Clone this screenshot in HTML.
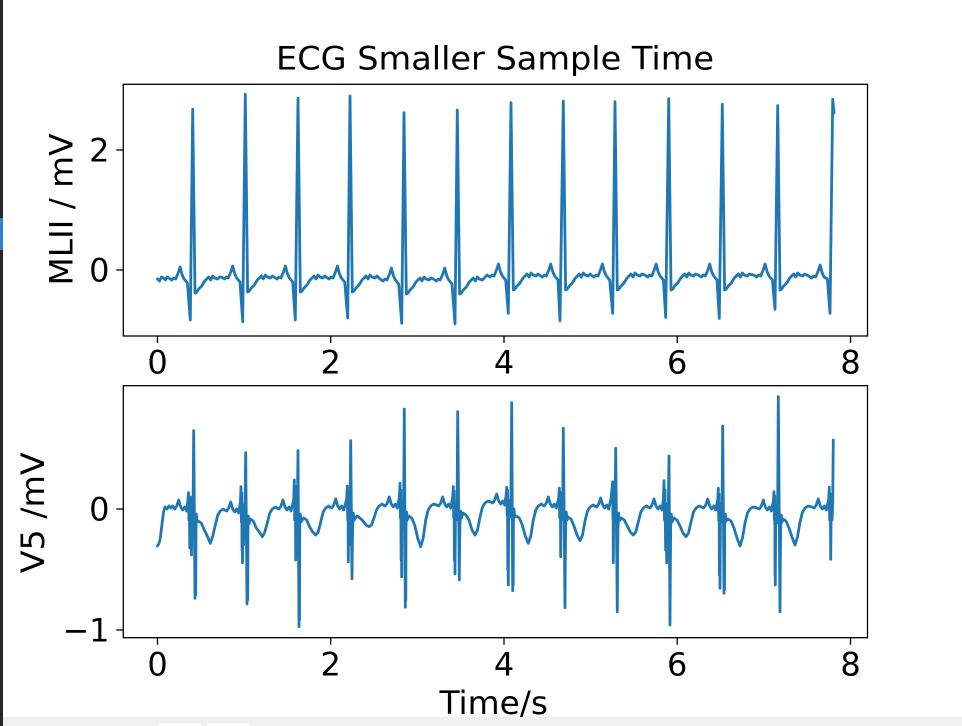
<!DOCTYPE html>
<html>
<head>
<meta charset="utf-8">
<style>
html,body{margin:0;padding:0;background:#ffffff;}
body{width:962px;height:726px;overflow:hidden;}
svg{display:block;}
text{font-family:"DejaVu Sans","Liberation Sans",sans-serif;fill:#000;}
</style>
</head>
<body>
<svg width="962" height="726" viewBox="0 0 962 726" xmlns="http://www.w3.org/2000/svg">
<rect x="0" y="0" width="962" height="726" fill="#ffffff"/>
<!-- left dark strip -->
<rect x="0" y="0" width="3" height="726" fill="#262626"/>
<rect x="0" y="218" width="3" height="32" fill="#2f7fd0"/>
<!-- bottom toolbar -->
<rect x="3" y="716.5" width="959" height="9.5" fill="#f0f0f0"/>
<rect x="158" y="723" width="44" height="3" fill="#fafafa"/>
<rect x="207" y="723" width="43" height="3" fill="#fafafa"/>

<!-- Title -->
<text x="276" y="69.3" font-size="32" textLength="438" lengthAdjust="spacingAndGlyphs">ECG Smaller Sample Time</text>

<!-- ===== Top axes ===== -->
<g stroke="#000" stroke-width="1.3" fill="none">
  <line x1="157.5" y1="336" x2="157.5" y2="343"/>
  <line x1="330.7" y1="336" x2="330.7" y2="343"/>
  <line x1="504" y1="336" x2="504" y2="343"/>
  <line x1="677.2" y1="336" x2="677.2" y2="343"/>
  <line x1="850.5" y1="336" x2="850.5" y2="343"/>
  <line x1="116.3" y1="150" x2="123.3" y2="150"/>
  <line x1="116.3" y1="270" x2="123.3" y2="270"/>
</g>
<g font-size="32" text-anchor="middle">
  <text x="157.5" y="373.5">0</text>
  <text x="330.7" y="373.5">2</text>
  <text x="504" y="373.5">4</text>
  <text x="677.2" y="373.5">6</text>
  <text x="850.5" y="373.5">8</text>
</g>
<g font-size="32" text-anchor="end">
  <text x="109.5" y="161.7">2</text>
  <text x="109.5" y="281.7">0</text>
</g>
<text transform="translate(72.5,209.5) rotate(-90)" font-size="32" text-anchor="middle" textLength="152" lengthAdjust="spacingAndGlyphs">MLII / mV</text>

<polyline fill="none" stroke="#1f77b4" stroke-width="2.8" stroke-linejoin="round" stroke-linecap="round" points="
157.5,279 159.5,281 161.5,277 163.5,278 165.5,280 167,277
168.7,278 171.7,280 173.7,278 175.7,279 178.2,273 180.1,267 182.2,275 184.1,279 187.4,283 190.3,320 192.7,109.3 195,293 196.7,292 198.7,289 201.7,286 204.7,281 206.7,279 208.7,277 210.7,280 212.7,276 214.7,278 217.7,279 219.7,277
221.3,277 224.3,279 226.3,277 228.3,278 230.8,272 232.7,266 234.8,274 236.7,278 240,282 242.7,321.7 245.3,94.3 247.6,292 249.3,291 251.3,288 254.3,285 257.3,280 259.3,278 261.3,276 263.3,279 265.3,275 267.3,277 270.3,278 272.3,276
274,277 277,279 279,277 281,278 283.5,272 285.4,266 287.5,274 289.4,278 292.7,282 295.3,320 298,98.3 300.3,292 302,291 304,288 307,285 310,280 312,278 314,276 316,279 318,275 320,277 323,278 325,276
326,277 329,279 331,277 333,278 335.5,272 337.4,266 339.5,274 341.4,278 344.7,282 347.7,318 350,96 352.3,292 354,291 356,288 359,285 362,280 364,278 366,276 368,279 370,275 372,277 375,278 377,276
380,279 383,281 385,279 387,280 389.5,274 391.4,268 393.5,276 395.4,280 398.7,284 401.7,323.3 404,112.7 406.3,294 408,293 410,290 413,287 416,282 418,280 420,278 422,281 424,277 426,279 429,280 431,278
433.3,279 436.3,281 438.3,279 440.3,280 442.8,274 444.7,268 446.8,276 448.7,280 452,284 455,324 457.3,110 459.6,294 461.3,293 463.3,290 466.3,287 469.3,282 471.3,280 473.3,278 475.3,281 477.3,277 479.3,279 482.3,280 484.3,278
487,275 490,277 492,275 494,276 496.5,270 498.4,264 500.5,272 502.4,276 505.7,280 508.3,313.3 511,102.7 513.3,290 515,289 517,286 520,283 523,278 525,276 527,274 529,277 531,273 533,275 536,276 538,274
539.3,275 542.3,277 544.3,275 546.3,276 548.8,270 550.7,264 552.8,272 554.7,276 558,280 560,320.7 563.3,101 565.6,290 567.3,289 569.3,286 572.3,283 575.3,278 577.3,276 579.3,274 581.3,277 583.3,273 585.3,275 588.3,276 590.3,274
591,275 594,277 596,275 598,276 600.5,270 602.4,264 604.5,272 606.4,276 609.7,280 612.7,313.3 615,101.7 617.3,290 619,289 621,286 624,283 627,278 629,276 631,274 633,277 635,273 637,275 640,276 642,274
644.7,275 647.7,277 649.7,275 651.7,276 654.2,270 656.1,264 658.2,272 660.1,276 663.4,280 665.7,317.3 668.7,98.7 671,290 672.7,289 674.7,286 677.7,283 680.7,278 682.7,276 684.7,274 686.7,277 688.7,273 690.7,275 693.7,276 695.7,274
698.3,275 701.3,277 703.3,275 705.3,276 707.8,270 709.7,264 711.8,272 713.7,276 717,280 719.3,318.3 722.3,104.3 724.6,290 726.3,289 728.3,286 731.3,283 734.3,278 736.3,276 738.3,274 740.3,277 742.3,273 744.3,275 747.3,276 749.3,274
753.7,275 756.7,277 758.7,275 760.7,276 763.2,270 765.1,264 767.2,272 769.1,276 772.4,280 775,309.3 777.7,105.7 780,290 781.7,289 783.7,286 786.7,283 789.7,278 791.7,276 793.7,274 795.7,277 797.7,273 799.7,275 802.7,276 804.7,274
808.7,276 811.7,278 813.7,276 815.7,277 818.2,271 820.1,265 822.2,273 824.1,277 827.4,279 830,313.3 832.7,99.3 834,113"/>
<rect x="123.3" y="84.3" width="744.2" height="251.7" fill="none" stroke="#000" stroke-width="1.3"/>

<!-- ===== Bottom axes ===== -->
<g stroke="#000" stroke-width="1.3" fill="none">
  <line x1="157.5" y1="637.7" x2="157.5" y2="644.7"/>
  <line x1="330.7" y1="637.7" x2="330.7" y2="644.7"/>
  <line x1="504" y1="637.7" x2="504" y2="644.7"/>
  <line x1="677.2" y1="637.7" x2="677.2" y2="644.7"/>
  <line x1="850.5" y1="637.7" x2="850.5" y2="644.7"/>
  <line x1="116.3" y1="509" x2="123.3" y2="509"/>
  <line x1="116.3" y1="630" x2="123.3" y2="630"/>
</g>
<g font-size="32" text-anchor="middle">
  <text x="157.5" y="675.5">0</text>
  <text x="330.7" y="675.5">2</text>
  <text x="504" y="675.5">4</text>
  <text x="677.2" y="675.5">6</text>
  <text x="850.5" y="675.5">8</text>
</g>
<g font-size="32" text-anchor="end">
  <text x="109.5" y="520.7">0</text>
  <text x="109.5" y="641.7">−1</text>
</g>
<text transform="translate(44,512.8) rotate(-90)" font-size="32" text-anchor="middle" textLength="121" lengthAdjust="spacingAndGlyphs">V5 /mV</text>
<text x="439.5" y="714" font-size="32" textLength="108.5" lengthAdjust="spacingAndGlyphs">Time/s</text>

<polyline fill="none" stroke="#1f77b4" stroke-width="2.8" stroke-linejoin="round" stroke-linecap="round" points="
157.3,546 158.7,544 160,540 161.3,530 162.5,520 163.7,511 165,507 167,509 169,506 171,508
172.7,506 174.7,509 176.7,506 178.7,500 180.7,507 182.7,510 184.7,507 186.7,511 187.9,500 188.5,492.7 188.9,520 189.3,499 189.8,548 190.3,497 190.8,540 191.2,503 191.5,555 192,505 192.5,523 193.1,502 193.7,430.7 195,598.3 195.4,540 195.7,595 196,528 196.3,514 197,522 198.3,521 201.3,523 204.3,530 207.3,536 210.3,543.3 212.8,536 215.3,525 217.8,515 220.3,511 223.3,509
224.7,510 226.7,511 228.7,508 230.7,502 232.7,509 234.7,512 236.7,509 238.7,513 240.4,502 241,486.7 241.4,522 241.8,493 242.0,550 242.2,505 242.5,562.7 243,507 243.5,545 244,505 244.5,525 245.1,504 245.7,452.7 247,604 247.4,545 247.7,600 248,530 248.3,516 249,524 250.3,519 253.3,521 256.3,528 259.3,532 262.3,536.7 264.8,532 267.3,523 269.8,513 272.3,509 275.3,507
277,508 279,509 281,506 283,500 285,507 287,510 289,507 291,511 293.7,500 294.3,480 294.7,520 295.1,486 295.4,503 295.7,560 296.2,505 296.8,523 297.4,504 298,450.7 299,626.7 299.3,560 299.5,620 299.7,528 300.3,514 301,522 303.7,518 306.7,520 309.7,527 312.7,532 315.7,535 318.2,532 320.7,522 323.2,512 325.7,508 328.7,506
329.7,507 331.7,508 333.7,505 335.7,499 337.7,506 339.7,509 341.7,506 343.7,510 346.7,499 347.3,486 347.7,520 348,492 348.3,561.7 348.8,504 349.2,545 349.5,522 350.1,503 350.7,440.7 352,578.7 352.4,540 352.7,527 353.3,513 354,520 357,516 360,518 363,521 366,525 369,526.7 371.5,525 374,518 376.5,510 379,506 382,504
383.3,505 385.3,506 387.3,503 389.3,497 391.3,504 393.3,507 395.3,504 397.3,508 399.4,497 400,483.3 400.4,518 400.8,490 401.1,560 401.4,502 401.7,576.7 402.2,503 403,520 403.7,501 404.3,409 405.3,607.3 405.6,560 405.8,600 406,526 406.6,512 407.3,520 408.7,516 411.7,518 414.7,525 417.7,538 420.7,546.7 423.2,538 425.7,520 428.2,510 430.7,506 433.7,504
436.7,505 438.7,506 440.7,503 442.7,497 444.7,504 446.7,507 448.7,504 450.7,508 452.7,497 453.3,486.7 453.7,518 454.1,491 454.4,560 454.7,502 455,574 455.5,503 456.4,520 457.1,501 457.7,411.7 459.3,580 459.6,545 460,524 460.6,511 461.3,518 463,513 466,515 469,520 472,530 475,535 477.5,530 480,517 482.5,507 485,503 488,501
490.7,502 492.7,503 494.7,500 496.7,494 498.7,501 500.7,504 502.7,501 504.7,505 506.1,495 506.7,487.3 507.1,515 507.5,490 507.8,570 508,500 508.3,585 508.8,500 509.8,517 510.9,498 511.7,402.7 512.7,590.7 513,550 513.2,585 513.4,522 514,509 514.7,517 516.3,516 519.3,518 522.3,525 525.3,536 528.3,543.3 530.8,536 533.3,520 535.8,510 538.3,506 541.3,504
542.3,505 544.3,506 546.3,503 548.3,497 550.3,504 552.3,507 554.3,504 556.3,508 558.7,498 559.3,488.3 559.7,518 560.1,492 560.4,503 560.7,556.7 561.2,503 562,520 562.7,501 563.3,428.3 565,607.7 565.3,560 565.7,526 566.3,512 567,520 568,517 571,519 574,526 577,535 580,540.7 582.5,535 585,521 587.5,511 590,507 593,505
594.7,506 596.7,507 598.7,504 600.7,498 602.7,505 604.7,508 606.7,505 608.7,509 611,499 612.7,481.7 612.9,519 613.1,500 613.3,562.7 613.8,504 614.5,521 615.1,502 615.7,448.3 617.3,611.7 617.6,560 618,527 618.6,513 619.3,521 621.3,518 624.3,520 627.3,526 630.3,532 633.3,535 635.8,532 638.3,522 640.8,512 643.3,508 646.3,506
648,507 650,508 652,505 654,499 656,506 658,509 660,506 662,510 663.4,499 664,480.7 664.5,520 665,490 665.6,550 666.3,504 666.7,562.7 667.2,505 667.8,522 668.4,503 669,456 670,625 670.3,570 670.7,528 671.3,514 672,522 674,518 677,520 680,526 683,533 686,536.7 688.5,533 691,522 693.5,512 696,508 699,506
701.7,507 703.7,508 705.7,505 707.7,499 709.7,506 711.7,509 713.7,506 715.7,510 717.7,500 718.3,488.3 718.7,520 719.1,494 719.4,575 719.7,504 720,588.3 720.5,505 721.4,522 722.1,503 722.7,426 724,593.3 724.3,550 724.5,590 724.7,527 725.3,514 726,521 728,519 731,521 734,528 737,538 740,546 742.5,538 745,523 747.5,513 750,509 753,507
757.3,508 759.3,509 761.3,506 763.3,500 765.3,507 767.3,510 769.3,507 771.3,511 773.4,501 774,491.7 774.4,520 774.8,496 775,575 775.1,505 775.3,585 775.8,505 776.9,523 777.7,504 778.3,396.7 780,611.7 780.3,560 780.7,528 781.3,515 782,522 783,519 786,521 789,528 792,537 795,545 797.5,537 800,522 802.5,512 805,508 808,506
812.3,507 814.3,508 816.3,505 818.3,499 820.3,506 822.3,509 824.3,506 826.3,510 828.7,500 829.3,487.3 829.7,520 830.1,494 830.4,504 830.7,559.3 831.2,505 832.1,520 832.7,503 833.3,440"/>
<rect x="123.3" y="385.7" width="744.2" height="252" fill="none" stroke="#000" stroke-width="1.3"/>
</svg>
</body>
</html>
